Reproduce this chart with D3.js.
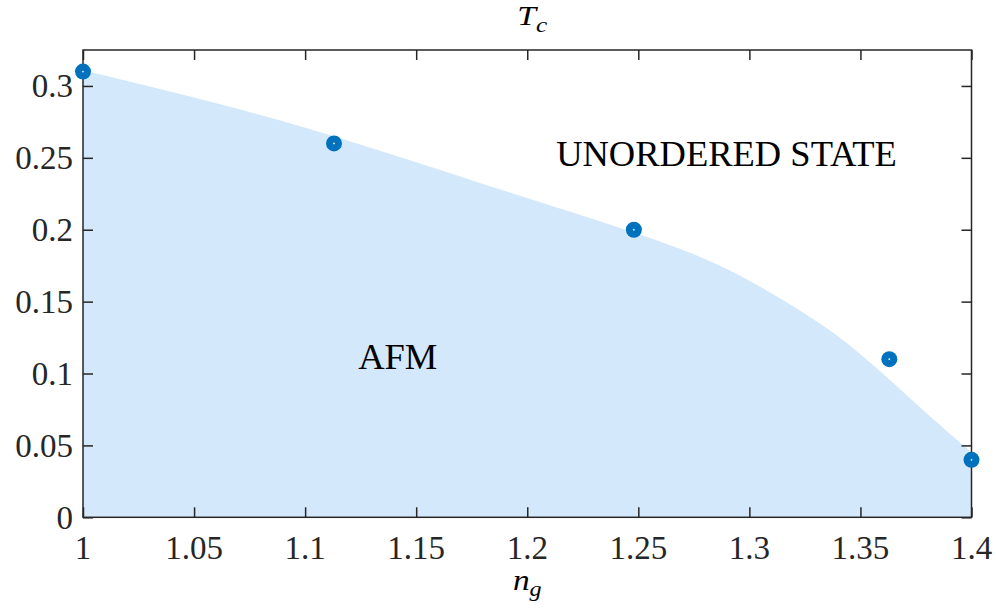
<!DOCTYPE html>
<html>
<head>
<meta charset="utf-8">
<script src="https://cdn.jsdelivr.net/npm/d3@7"></script>
<style>
  html, body { margin: 0; padding: 0; background: #fff; }
  svg { display: block; }
</style>
</head>
<body>
<svg id="chart" width="996" height="610"></svg>
<script>
// Critical temperature measurements
const ngValues = [1.0, 1.113, 1.248, 1.363, 1.4];
const tcValues = [0.31, 0.26, 0.20, 0.11, 0.04];

// Fitted phase boundary separating AFM from the unordered state
const boundaryNg = [1.0, 1.05, 1.10, 1.15, 1.20, 1.25, 1.28, 1.30, 1.32, 1.34, 1.36, 1.38, 1.40];
const boundaryTc = [0.311, 0.292, 0.271, 0.247, 0.222, 0.197, 0.1796, 0.1645, 0.1465, 0.1258, 0.100, 0.072, 0.045];

// Axis ticks
const xTicks = [1, 1.05, 1.1, 1.15, 1.2, 1.25, 1.3, 1.35, 1.4];
const yTicks = [0, 0.05, 0.1, 0.15, 0.2, 0.25, 0.3];
const xTickLabels = ["1", "1.05", "1.1", "1.15", "1.2", "1.25", "1.3", "1.35", "1.4"];
const yTickLabels = ["0", "0.05", "0.1", "0.15", "0.2", "0.25", "0.3"];

const SERIF = "'Liberation Serif', 'Times New Roman', serif";
const plot = { left: 83, right: 971.5, top: 50, bottom: 517.3 };
const axisColor = "#262626";

const svg = d3.select("#chart");
const x = d3.scaleLinear().domain([1, 1.4]).range([plot.left, plot.right]);
const y = d3.scaleLinear().domain([0, 0.325]).range([plot.bottom, plot.top]);

// Shaded AFM region under the boundary
const boundary = boundaryNg.map((v, i) => ({ ng: v, tc: boundaryTc[i] }));
svg.append("path")
  .datum(boundary)
  .attr("fill", "#d3e8fb")
  .attr("d", d3.area()
    .x(d => x(d.ng))
    .y0(y(0))
    .y1(d => y(d.tc))
    .curve(d3.curveNatural));

// Axes with inward ticks on all four sides
const tickLen = 10;
function styleAxis(g) {
  g.select(".domain").remove();
  g.selectAll(".tick line").attr("stroke", axisColor).attr("stroke-width", 1.5);
}
svg.append("g").attr("transform", `translate(0,${plot.bottom})`)
  .call(d3.axisBottom(x).tickValues(xTicks).tickSizeInner(-tickLen).tickSizeOuter(0).tickFormat(""))
  .call(styleAxis);
svg.append("g").attr("transform", `translate(0,${plot.top})`)
  .call(d3.axisTop(x).tickValues(xTicks).tickSizeInner(-tickLen).tickSizeOuter(0).tickFormat(""))
  .call(styleAxis);
svg.append("g").attr("transform", `translate(${plot.left},0)`)
  .call(d3.axisLeft(y).tickValues(yTicks).tickSizeInner(-tickLen).tickSizeOuter(0).tickFormat(""))
  .call(styleAxis);
svg.append("g").attr("transform", `translate(${plot.right},0)`)
  .call(d3.axisRight(y).tickValues(yTicks).tickSizeInner(-tickLen).tickSizeOuter(0).tickFormat(""))
  .call(styleAxis);

svg.append("rect")
  .attr("x", plot.left).attr("y", plot.top)
  .attr("width", plot.right - plot.left).attr("height", plot.bottom - plot.top)
  .attr("fill", "none").attr("stroke", axisColor).attr("stroke-width", 1.5);

// Tick labels
svg.append("g").selectAll("text").data(xTicks).join("text")
  .attr("font-family", SERIF).attr("font-size", 33).attr("fill", axisColor)
  .attr("x", d => x(d)).attr("y", 559)
  .attr("text-anchor", "middle")
  .text((d, i) => xTickLabels[i]);
svg.append("g").selectAll("text").data(yTicks).join("text")
  .attr("font-family", SERIF).attr("font-size", 33).attr("fill", axisColor)
  .attr("x", plot.left - 10).attr("y", d => y(d) + 11.5)
  .attr("text-anchor", "end")
  .text((d, i) => yTickLabels[i]);

// Data points
const pts = ngValues.map((v, i) => ({ ng: v, tc: tcValues[i] }));
svg.append("g").selectAll("circle").data(pts).join("circle")
  .attr("cx", d => x(d.ng)).attr("cy", d => y(d.tc))
  .attr("r", 8).attr("fill", "#0072bd");
svg.append("g").selectAll("circle").data(pts).join("circle")
  .attr("cx", d => x(d.ng)).attr("cy", d => y(d.tc))
  .attr("r", 0.9).attr("fill", "#e8f2fb");

// Phase labels
svg.append("text").attr("font-family", SERIF).attr("font-size", 36.5).attr("fill", "#000")
  .attr("x", x(1.213)).attr("y", y(0.244))
  .text("UNORDERED STATE");
svg.append("text").attr("font-family", SERIF).attr("font-size", 36.5).attr("fill", "#000")
  .attr("x", x(1.1239)).attr("y", y(0.1033))
  .text("AFM");

// Title T_c and x-axis label n_g (math italic, slightly widened)
const cx = (plot.left + plot.right) / 2;
const title = svg.append("text").attr("font-family", SERIF).attr("font-style", "italic")
  .attr("transform", `translate(${cx + 5},25) scale(1.2,1)`)
  .attr("text-anchor", "middle");
title.append("tspan").attr("font-size", 28).text("T");
title.append("tspan").attr("font-size", 21).attr("dy", 7).text("c");

const xlab = svg.append("text").attr("font-family", SERIF).attr("font-style", "italic")
  .attr("transform", `translate(${cx},590) scale(1.15,1)`)
  .attr("text-anchor", "middle");
xlab.append("tspan").attr("font-size", 29).text("n");
xlab.append("tspan").attr("font-size", 21).attr("dy", 6).text("g");
</script>
</body>
</html>
